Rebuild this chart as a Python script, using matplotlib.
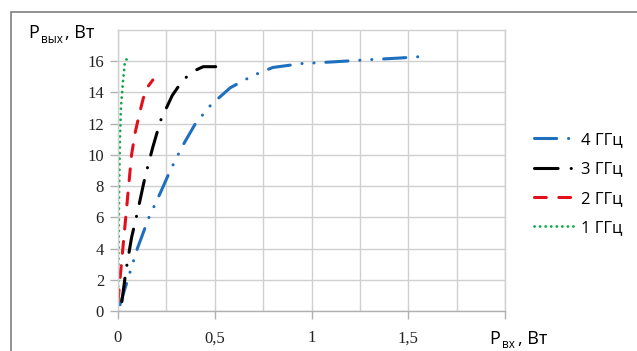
import matplotlib
matplotlib.use("Agg")
import matplotlib.pyplot as plt
from matplotlib.patches import Rectangle
from matplotlib.ticker import MultipleLocator

plt.rcParams['font.family'] = ['Open Sans', 'DejaVu Sans']
plt.rcParams['lines.scale_dashes'] = False

# data (P_in, W -> P_out, W)
x_4ghz = [0.01, 0.05, 0.10, 0.16, 0.22, 0.27, 0.33, 0.40, 0.48, 0.58, 0.70, 0.80, 0.95, 1.10, 1.30, 1.45, 1.57]
y_4ghz = [0.4, 2.0, 4.0, 6.0, 7.6, 9.0, 10.5, 12.0, 13.2, 14.3, 15.1, 15.6, 15.85, 15.95, 16.1, 16.2, 16.3]

x_3ghz = [0.02, 0.04, 0.07, 0.10, 0.14, 0.18, 0.22, 0.28, 0.33, 0.38, 0.44, 0.505]
y_3ghz = [0.6, 2.5, 4.7, 6.3, 8.6, 10.5, 12.2, 13.8, 14.7, 15.3, 15.65, 15.65]

x_2ghz = [0.0, 0.01, 0.025, 0.04, 0.055, 0.07, 0.09, 0.11, 0.13, 0.15, 0.18]
y_2ghz = [0.6, 2.0, 4.0, 6.0, 8.0, 10.0, 11.5, 12.6, 13.6, 14.3, 14.8]

x_1ghz = [0.0, 0.003, 0.006, 0.01, 0.015, 0.025, 0.036, 0.05, 0.067]
y_1ghz = [0.5, 4.0, 8.0, 11.0, 13.0, 14.6, 16.0, 16.2, 16.3]

labels = ['4 ГГц', '3 ГГц', '2 ГГц', '1 ГГц']
colors = ['#1f6fbf', '#000000', '#e3101c', '#10a84a']

W, H = 637, 351
fig = plt.figure(figsize=(W / 100, H / 100), dpi=100)

# outer chart frame
fig.patches.append(Rectangle((11 / W, -0.1), 1.2, (H - 12) / H + 0.1,
                             transform=fig.transFigure, fill=False,
                             edgecolor='#7f7f7f', linewidth=1.2))

ax = fig.add_axes([118 / W, 1 - 311 / H, (505 - 118) / W, (311 - 30) / H])

lw = 2.2
ax.plot(x_4ghz, y_4ghz, color=colors[0], lw=lw, dash_capstyle='round',
        linestyle=(0, (16, 8.5, 0.1, 8.5, 0.1, 8.5)), label=labels[0])
ax.plot(x_3ghz, y_3ghz, color=colors[1], lw=lw, dash_capstyle='round',
        linestyle=(0, (17, 9.4, 0.1, 9.4)), label=labels[1])
ax.plot(x_2ghz, y_2ghz, color=colors[2], lw=lw, dash_capstyle='round',
        linestyle=(0, (8.5, 9)), label=labels[2])
ax.plot(x_1ghz, y_1ghz, color=colors[3], lw=2.0, dash_capstyle='round',
        linestyle=(0, (0.1, 3.9)), label=labels[3])

ax.set_xlim(0, 2)
ax.set_ylim(0, 18)
ax.xaxis.set_minor_locator(MultipleLocator(0.25))
ax.set_yticks(range(0, 17, 2))
ax.set_xticks([0, 0.5, 1, 1.5, 2])
ax.set_xticklabels(['0', '0,5', '1', '1,5', ''])

ax.grid(True, which='both', color='#d0d0d0', lw=1.0)
ax.set_axisbelow(True)
for s in ax.spines.values():
    s.set_color('#d0d0d0')
    s.set_linewidth(1.0)
ax.spines['bottom'].set_color('#b0b0b0')

ax.tick_params(axis='both', which='major', color='#b0b0b0', length=6, width=1.0,
               labelsize=12, labelfontfamily='Liberation Serif', labelcolor='#222222')
ax.tick_params(axis='y', pad=4)
ax.tick_params(axis='x', pad=8)
ax.tick_params(axis='both', which='minor', length=0)

# axis titles
fig.text(28 / W, 1 - 38 / H, 'P', fontsize=13, ha='left', va='baseline')
fig.text(41 / W, 1 - 43 / H, 'вых', fontsize=8.5, ha='left', va='baseline')
fig.text(65 / W, 1 - 38 / H, ', Вт', fontsize=13, ha='left', va='baseline')

fig.text(489 / W, 1 - 344 / H, 'P', fontsize=13, ha='left', va='baseline')
fig.text(502 / W, 1 - 348 / H, 'вх', fontsize=8.5, ha='left', va='baseline')
fig.text(518 / W, 1 - 344 / H, ', Вт', fontsize=13, ha='left', va='baseline')

ax.legend(loc='upper left', bbox_to_anchor=(534 / W, 1 - 132 / H),
          bbox_transform=fig.transFigure, frameon=False, fontsize=12,
          handlelength=2.4, handletextpad=0.4, labelspacing=0.8,
          borderpad=0, borderaxespad=0)

fig.savefig('out.png', dpi=100)
